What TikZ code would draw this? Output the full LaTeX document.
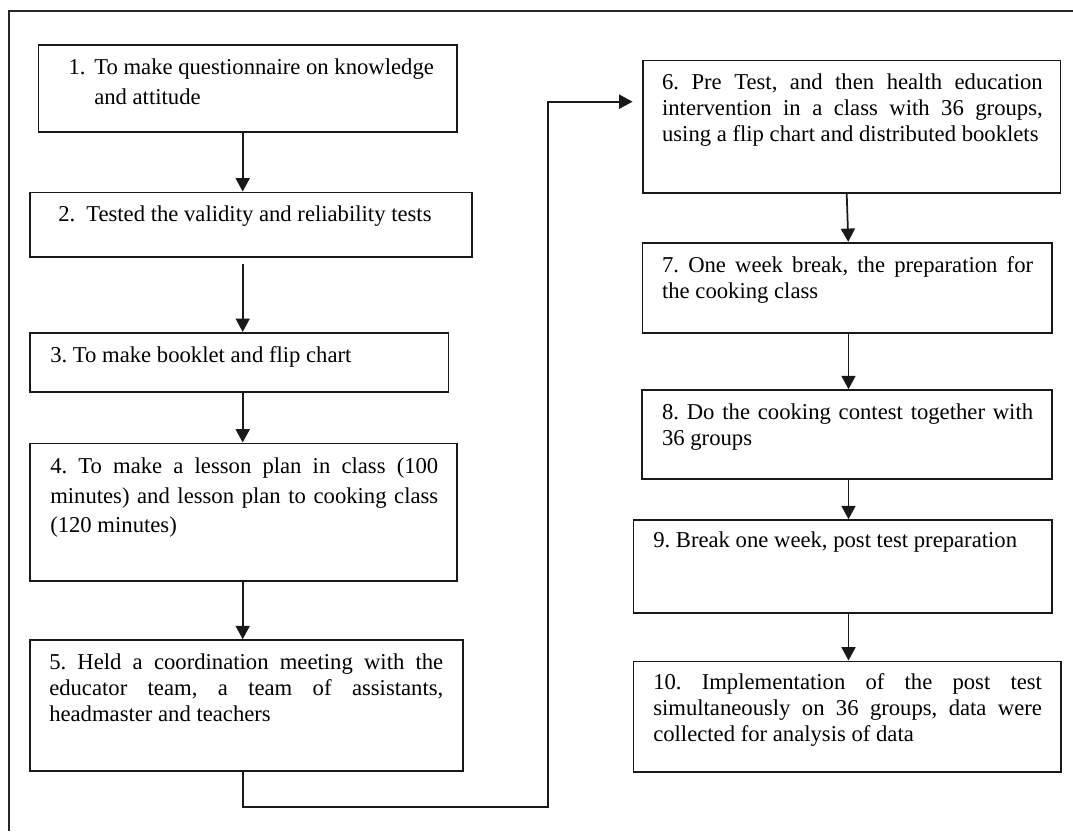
\documentclass[tikz,border=0pt]{standalone}
\usepackage{fontspec}
\setmainfont{Liberation Serif}
\usetikzlibrary{fit,arrows.meta}
\begin{document}
\begin{tikzpicture}[x=0.75pt,y=-0.75pt,
  frame/.style={draw=black!85, line width=1.5pt},
  box/.style={draw=black!90, line width=1.2pt, inner sep=0pt, rectangle},
  txt/.style={anchor=north west, inner sep=0pt, font=\fontsize{17}{19.4}\selectfont,
    execute at begin node={\frenchspacing\hyphenpenalty=10000\exhyphenpenalty=10000}},
  jtxt/.style={txt, align=justify, text width=#1},
  wide/.style={font=\fontsize{17}{21.9}\selectfont},
  arr/.style={draw=black!90, line width=1.3pt, -{Triangle[length=10pt,width=10.5pt]}},
]
\useasboundingbox (0,0) rectangle (1073,831);
\draw[frame] (1073,10.7) -- (9.3,10.7) -- (9.3,831);

% left column boxes
\node[box, fit={(38.3,45) (456.7,132.3)}] (b1) {};
\node[box, fit={(30,192.3) (471.7,256.7)}] (b2) {};
\node[box, fit={(30,332.7) (448.3,391.7)}] (b3) {};
\node[box, fit={(30,443.3) (456.7,580.7)}] (b4) {};
\node[box, fit={(30,640) (462.7,771)}] (b5) {};
% right column boxes
\node[box, fit={(642.7,60.5) (1060.5,192.7)}] (b6) {};
\node[box, fit={(642.3,242.7) (1052,333)}] (b7) {};
\node[box, fit={(641.7,390) (1052,479)}] (b8) {};
\node[box, fit={(633.3,520) (1052,612.7)}] (b9) {};
\node[box, fit={(633.3,661.3) (1061,771.7)}] (b10) {};

% texts
\node[txt, wide] (t1) at (68.3,58.9)
  {\makebox[19.3pt][l]{1.}\parbox[t]{266pt}{\raggedright To make questionnaire on knowledge\\and attitude}};
\node[txt] (t2) at (58,205.6) {\makebox[21pt][l]{2.}Tested the validity and reliability tests};
\node[txt] (t3) at (50,346.3) {3. To make booklet and flip chart};
\node[jtxt=291pt, wide] (t4) at (50,457.9)
  {4. To make a lesson plan in class (100\linebreak minutes) and lesson plan to cooking class\linebreak (120 minutes)};
\node[jtxt=295.5pt] (t5) at (49,653.6)
  {5. Held a coordination meeting with the\linebreak educator team, a team of assistants,\linebreak headmaster and teachers};
\node[jtxt=285.5pt] (t6) at (661.8,73.9)
  {6. Pre Test, and then health education\linebreak intervention in a class with 36 groups,\linebreak using a flip chart and distributed booklets};
\node[jtxt=278.3pt] (t7) at (661.8,256.3)
  {7. One week break, the preparation for\linebreak the cooking class};
\node[jtxt=278.3pt] (t8) at (661.8,403.6)
  {8. Do the cooking contest together with\linebreak 36 groups};
\node[txt] (t9) at (653,531.3) {9. Break one week, post test preparation};
\node[jtxt=291.5pt] (t10) at (653,673.6)
  {10. Implementation of the post test\linebreak simultaneously on 36 groups, data were\linebreak collected for analysis of data};

% connector guide coordinates
\coordinate (lx) at (242.7,0);
\coordinate (rx) at (848.5,0);
\coordinate (s6) at (846.7,0);
\coordinate (s7) at (848.3,0);
\coordinate (bend) at (548.3,806.7);
\coordinate (ent) at (0,101.7);

% connectors
\draw[arr] (b1.south -| lx) -- (b2.north -| lx);
\draw[arr, shorten <=5pt] (b2.south -| lx) -- (b3.north -| lx);
\draw[arr] (b3.south -| lx) -- (b4.north -| lx);
\draw[arr] (b4.south -| lx) -- (b5.north -| lx);
\draw[arr, shorten >=7pt] (b5.south -| lx) |- (bend) -- (bend |- ent) -- (b6.west |- ent);
\draw[arr] (b6.south -| s6) -- (b7.north -| s7);
\draw[arr] (b7.south -| rx) -- (b8.north -| rx);
\draw[arr] (b8.south -| rx) -- (b9.north -| rx);
\draw[arr] (b9.south -| rx) -- (b10.north -| rx);
\end{tikzpicture}
\end{document}
